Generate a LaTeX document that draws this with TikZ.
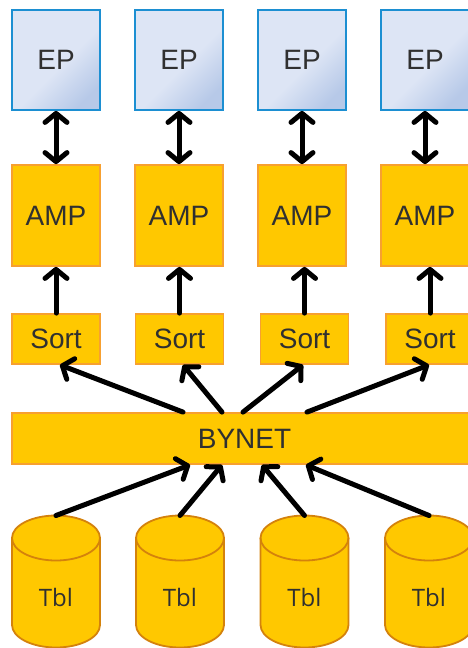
\documentclass[tikz,border=0pt]{standalone}
\usepackage{fontspec}
\setmainfont{Liberation Sans}
\newfontfamily\tblfont{Open Sans}
\usetikzlibrary{arrows.meta}
\definecolor{epfill}{HTML}{DDE5F5}
\definecolor{epdark}{HTML}{B7C9E8}
\definecolor{epline}{HTML}{1C8FD2}
\definecolor{ampfill}{HTML}{FFC800}
\definecolor{ampline}{HTML}{F7A030}
\definecolor{tblline}{HTML}{D4820C}
\definecolor{txt}{HTML}{303030}
\pgfdeclareverticalshading{epshade}{100bp}{color(0bp)=(epdark); color(24bp)=(epdark); color(46bp)=(epfill); color(100bp)=(epfill)}

\begin{document}
\begin{tikzpicture}[x=1pt,y=-1pt,
    box/.style={draw, line width=1.8pt, minimum width=88pt, inner sep=0pt, text=txt, font=\fontsize{28}{32}\selectfont},
    epbox/.style={box, draw=epline, shading=epshade, shading angle=45, minimum height=100pt},
    ampbox/.style={box, draw=ampline, fill=ampfill},
    tblshape/.style={draw=tblline, fill=ampfill, line width=1.8pt},
    conn/.style={line width=5pt, line cap=round, line join=round, -{Straight Barb[length=9pt,width=22pt,round]}},
    biconn/.style={conn, {Straight Barb[length=9pt,width=22pt,round]}-{Straight Barb[length=9pt,width=22pt,round]}}]
    \useasboundingbox (0,0) rectangle (467,648);
    % EP and AMP columns
    \foreach \x [count=\i] in {56,179,302,425} {
      \node[epbox] (ep\i) at (\x,60) {EP};
      \node[ampbox, minimum height=101pt] (amp\i) at (\x,215.5) {AMP};
      \draw[biconn] (ep\i.south) -- (amp\i.north);
    }
    % sort steps
    \foreach \x [count=\i] in {56,179.5,304.5,430} {
      \node[ampbox, minimum height=50pt] (sort\i) at (\x,339) {Sort};
      \draw[conn] (sort\i.north) -- (sort\i.north |- amp\i.south);
    }
    \node[ampbox, minimum width=465pt, minimum height=51pt] (bynet) at (244.5,438.5) {BYNET};
    % tables
    \foreach \x [count=\i] in {56,180,304.5,429} {
      \filldraw[tblshape] (\x-44,538) -- (\x-44,625) arc[start angle=180, end angle=360, x radius=44pt, y radius=22.5pt]
        -- (\x+44,538) arc[start angle=0, end angle=180, x radius=44pt, y radius=22.5pt] -- cycle;
      \draw[tblshape, fill=none] (\x-44,538) arc[start angle=180, end angle=360, x radius=44pt, y radius=22.5pt];
      \node[text=txt, font=\tblfont\fontsize{24}{28}\selectfont] (tbl\i) at (\x,597) {Tbl};
      \coordinate (tbltop\i) at (\x,515.5);
    }
    % BYNET to sort
    \draw[conn] ([xshift=-61.5pt]bynet.north) -- ([xshift=4pt]sort1.south);
    \draw[conn] ([xshift=-22.5pt]bynet.north) -- ([xshift=3.5pt]sort2.south);
    \draw[conn] ([xshift=-1.5pt]bynet.north) -- ([xshift=-1.5pt]sort3.south);
    \draw[conn] ([xshift=62.5pt]bynet.north) -- ([xshift=-1pt]sort4.south);
    % tables to BYNET
    \draw[conn] (tbltop1) -- ([xshift=-54.5pt]bynet.south);
    \draw[conn] (tbltop2) -- ([xshift=-22.5pt]bynet.south);
    \draw[conn] (tbltop3) -- ([xshift=17.5pt]bynet.south);
    \draw[conn] (tbltop4) -- ([xshift=61.5pt]bynet.south);
\end{tikzpicture}
\end{document}
